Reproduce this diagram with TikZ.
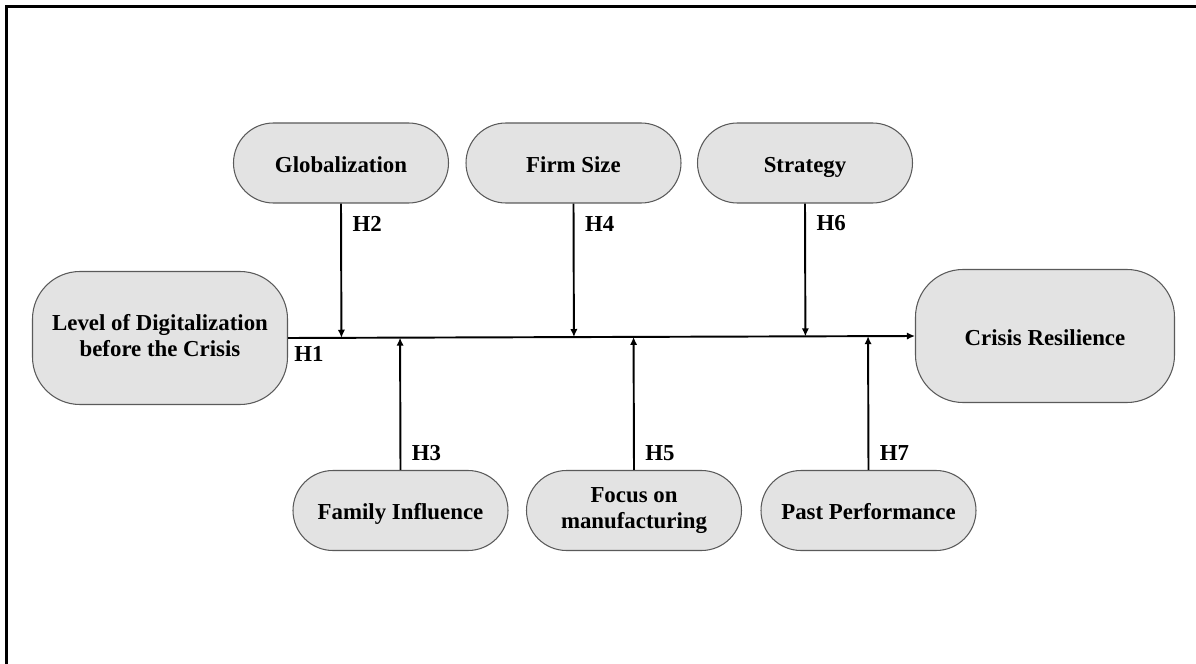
\documentclass[tikz,border=0pt]{standalone}
\usepackage{fontspec}
\setmainfont{Liberation Serif}
\usepackage{tikz}
\usetikzlibrary{arrows,arrows.meta,calc}
\definecolor{boxfill}{HTML}{E3E3E3}
\definecolor{boxline}{HTML}{5A5A5A}

\begin{document}
\begin{tikzpicture}[
  factor/.style={draw=boxline, fill=boxfill, line width=0.6pt, align=center,
    font=\fontsize{13}{14.5}\selectfont\bfseries, execute at begin node={\rule[-0.22em]{0pt}{1.24em}}},
  moderator/.style={factor, minimum width=4.3cm, minimum height=1.6cm, rounded corners=0.8cm},
  mainbox/.style={factor, minimum height=2.66cm, rounded corners=0.95cm},
  link/.style={black, line width=1.1pt, -{Latex[length=4.6pt,width=4.2pt]}},
  hyp/.style={font=\fontsize{13}{14.5}\selectfont\bfseries, inner sep=0pt}
]
\clip (0cm,0cm) rectangle (23.92cm,-13.28cm);
\draw[black, line width=1.5pt] (0.13cm,-0.13cm) rectangle (25cm,-14cm);

\node[mainbox, minimum width=5.1cm] (lvl) at (3.2cm,-6.76cm) {Level of Digitalization\\before the Crisis};
\node[mainbox, minimum width=5.18cm] (res) at (20.9cm,-6.72cm) {Crisis Resilience};

\node[moderator] (glob) at (6.82cm,-3.26cm) {Globalization};
\node[moderator] (size) at (11.47cm,-3.26cm) {Firm Size};
\node[moderator] (strat) at (16.1cm,-3.26cm) {Strategy};

\node[moderator] (fam) at (8.01cm,-10.21cm) {Family Influence};
\node[moderator] (manu) at (12.68cm,-10.21cm) {Focus on\\manufacturing};
\node[moderator] (perf) at (17.37cm,-10.21cm) {Past Performance};

\draw[link] (lvl.east) -- node[hyp, pos=0, anchor=north west, xshift=3pt, yshift=-4pt] {H1} (res.west);

\draw[link] (glob.south) -- node[hyp, pos=0.15, anchor=west, xshift=6pt] {H2} ($(lvl.east)!(glob.south)!(res.west)$);
\draw[link] (size.south) -- node[hyp, pos=0.15, anchor=west, xshift=6pt] {H4} ($(lvl.east)!(size.south)!(res.west)$);
\draw[link] (strat.south) -- node[hyp, pos=0.15, anchor=west, xshift=6pt] {H6} ($(lvl.east)!(strat.south)!(res.west)$);

\draw[link] (fam.north) -- node[hyp, pos=0.13, anchor=west, xshift=6pt] {H3} ($(lvl.east)!(fam.north)!(res.west)$);
\draw[link] (manu.north) -- node[hyp, pos=0.13, anchor=west, xshift=6pt] {H5} ($(lvl.east)!(manu.north)!(res.west)$);
\draw[link] (perf.north) -- node[hyp, pos=0.13, anchor=west, xshift=6pt] {H7} ($(lvl.east)!(perf.north)!(res.west)$);
\end{tikzpicture}
\end{document}
